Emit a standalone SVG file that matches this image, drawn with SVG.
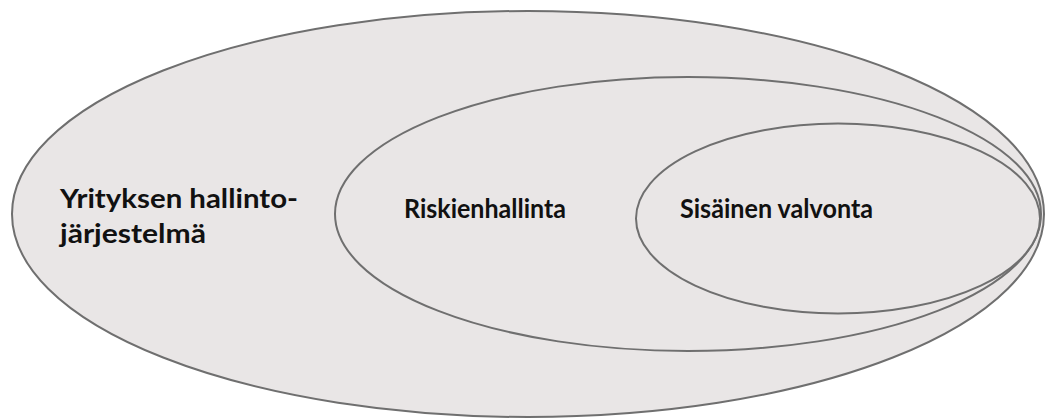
<svg xmlns="http://www.w3.org/2000/svg" width="1046" height="420" viewBox="0 0 1046 420">
<style>
.e{fill:#e9e6e6;stroke:#6f6f6f;stroke-width:2}
.t{font-family:Lato,"Open Sans",sans-serif;font-weight:bold;font-size:27px;fill:#111}
</style>
<rect width="1046" height="420" fill="#ffffff"/>
<g id="outer">
<ellipse class="e" cx="528" cy="214" rx="516" ry="203"/>
<text class="t" x="60" y="208" textLength="238" lengthAdjust="spacingAndGlyphs">Yrityksen hallinto-</text>
<text class="t" x="60" y="243" textLength="146" lengthAdjust="spacingAndGlyphs">järjestelmä</text>
</g>
<g id="middle">
<ellipse class="e" cx="688" cy="214" rx="353" ry="137"/>
<text class="t" x="404" y="218" textLength="162" lengthAdjust="spacingAndGlyphs">Riskienhallinta</text>
</g>
<g id="inner">
<ellipse class="e" cx="838" cy="218.5" rx="202" ry="95"/>
<text class="t" x="680" y="218" textLength="193" lengthAdjust="spacingAndGlyphs">Sisäinen valvonta</text>
</g>
<g id="connectors"/>
</svg>
